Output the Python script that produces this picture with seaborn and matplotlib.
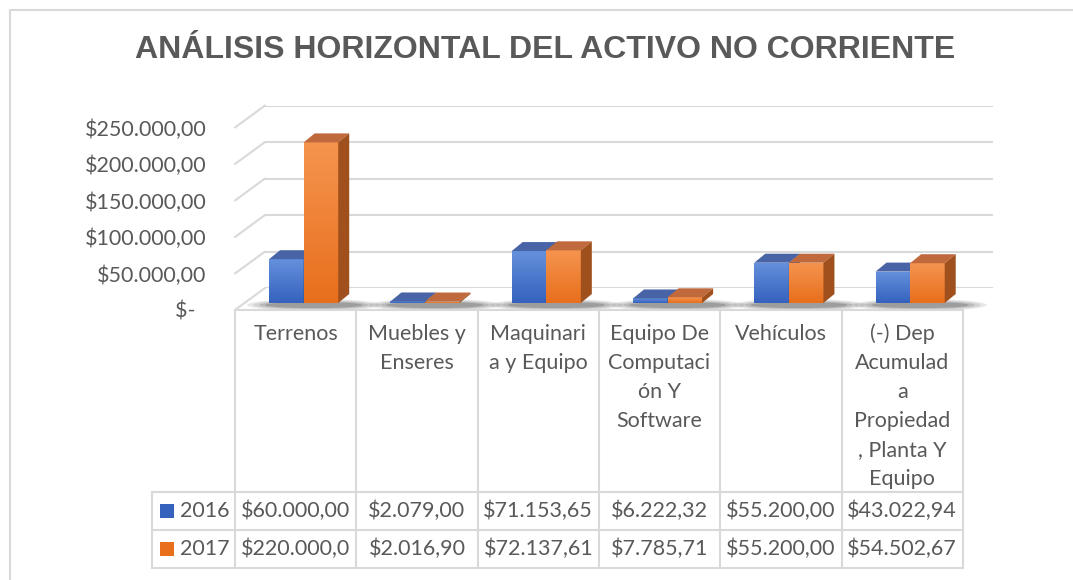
import numpy as np
import pandas as pd
import seaborn as sns
import matplotlib.pyplot as plt
from matplotlib.patches import Polygon, Ellipse, ConnectionPatch, Rectangle
from matplotlib.lines import Line2D
from matplotlib.colors import LinearSegmentedColormap
from matplotlib.ticker import FuncFormatter


categorias = [
    "Terrenos",
    "Muebles y\nEnseres",
    "Maquinari\na y Equipo",
    "Equipo De\nComputaci\nón Y\nSoftware",
    "Vehículos",
    "(-) Dep\nAcumulad\na\nPropiedad\n, Planta Y\nEquipo",
]
anios = ["2016", "2017"]
valores_2016 = [60000.00, 2079.00, 71153.65, 6222.32, 55200.00, 43022.94]
valores_2017 = [220000.00, 2016.90, 72137.61, 7785.71, 55200.00, 54502.67]
ticks_y = [0, 50000, 100000, 150000, 200000, 250000]

W, H = 1073, 580
GRIS = "#595959"
LINEA = "#D9D9D9"
AZUL = ["#6490DC", "#3562BD"]
NARANJA = ["#F5944F", "#E86F1C"]
TOPE = {"2016": "#4864A6", "2017": "#C0693C"}
LADO = {"2016": "#2E4E8E", "2017": "#A0501C"}
FS = 15.5

sns.set_style("white")
plt.rcParams["font.family"] = ["Lato", "DejaVu Sans"]


def fx(x):
    return x / W


def fy(y):
    return 1 - y / H


def rect(x0, y0, x1, y1):
    return [fx(x0), fy(y1), (x1 - x0) / W, (y1 - y0) / H]


def dinero(v):
    s = f"{v:,.2f}".replace(",", "X").replace(".", ",").replace("X", ".")
    return "$" + s


fig = plt.figure(figsize=(W / 100, H / 100), dpi=100)

# borde del grafico
fig.add_artist(Line2D([fx(10), fx(10)], [fy(10), 0], color=LINEA, lw=1.5))
fig.add_artist(Line2D([fx(10), 1], [fy(10), fy(10)], color=LINEA, lw=1.5))

fig.text(fx(545), fy(50), "ANÁLISIS HORIZONTAL DEL ACTIVO NO CORRIENTE",
         ha="center", va="center", fontsize=23, fontweight="bold",
         color=GRIS, family="Liberation Sans")

# pared del fondo con las lineas de division
ESC = 182.5
ax_back = fig.add_axes(rect(265, 288 - ESC, 993, 288))
ax_back.set_ylim(0, 250000)
ax_back.set_xlim(0, 1)
ax_back.set_yticks(ticks_y)
ax_back.set_xticks([])
ax_back.yaxis.grid(True, color=LINEA, lw=1.5)
ax_back.tick_params(left=False, labelleft=False)
sns.despine(ax=ax_back, left=True, bottom=True)
ax_back.patch.set_alpha(0)

ax_left = fig.add_axes(rect(235, 310 - ESC, 236, 310))
ax_left.set_ylim(0, 250000)
ax_left.set_xlim(0, 1)
ax_left.set_yticks(ticks_y)
ax_left.set_xticks([])
ax_left.yaxis.set_major_formatter(
    FuncFormatter(lambda v, p: "$-  " if v == 0 else dinero(v)))
ax_left.tick_params(left=False, pad=17, labelsize=FS, labelcolor=GRIS)
sns.despine(ax=ax_left, left=True, bottom=True)
ax_left.patch.set_alpha(0)
for v in ticks_y:
    fig.add_artist(ConnectionPatch(xyA=(0, v), coordsA=ax_left.transData,
                                   xyB=(0, v), coordsB=ax_back.transData,
                                   color=LINEA, lw=1.5))

# barras
df = pd.DataFrame({
    "categoria": categorias * 2,
    "anio": [anios[0]] * 6 + [anios[1]] * 6,
    "valor": valores_2016 + valores_2017,
})

COL = 121.3
ax = fig.add_axes(rect(243, 303 - ESC, 243 + 6 * COL, 303))
sns.barplot(data=df, x="categoria", y="valor", hue="anio",
            palette=[AZUL[1], NARANJA[1]], width=0.57, ax=ax,
            legend=False, errorbar=None, linewidth=0)
ax.set_xlim(-0.5, 5.5)
ax.set_ylim(0, 250000)
ax.axis("off")
ax.patch.set_alpha(0)

dx = 11 / COL
dy = 9 / (ESC / 250000)

# sombras en el piso
for i in range(len(categorias)):
    for k, a in enumerate([0.10, 0.10, 0.14, 0.18]):
        e = Ellipse((i + 10 / COL, -2 / (ESC / 250000)),
                    width=(0.57 + (64 - 12 * k) / COL),
                    height=(12 - 2 * k) / (ESC / 250000),
                    color="#202020", alpha=a, lw=0, clip_on=False, zorder=1)
        ax.add_patch(e)

cmaps = {"2016": LinearSegmentedColormap.from_list("az", AZUL[::-1]),
         "2017": LinearSegmentedColormap.from_list("na", NARANJA[::-1])}
grad = np.linspace(0, 1, 100).reshape(-1, 1)

z = 3
barras = []
for anio, cont in zip(anios, ax.containers):
    for i, p in enumerate(cont.patches):
        barras.append((i, anio, p))
barras.sort(key=lambda t: (t[0], anios.index(t[1])))

for i, anio, p in barras:
    x0, w, h = p.get_x(), p.get_width(), p.get_height()
    p.set_zorder(z)
    im = ax.imshow(grad, extent=[x0, x0 + w, 0, h], origin="lower",
                   aspect="auto", cmap=cmaps[anio], zorder=z + 0.1,
                   clip_on=True)
    im.set_clip_path(p)
    ax.add_patch(Polygon([(x0, h), (x0 + w, h), (x0 + w + dx, h + dy),
                          (x0 + dx, h + dy)], closed=True, color=TOPE[anio],
                         lw=0, clip_on=False, zorder=z + 0.2))
    ax.add_patch(Polygon([(x0 + w, 0), (x0 + w + dx, dy),
                          (x0 + w + dx, h + dy), (x0 + w, h)], closed=True,
                         color=LADO[anio], lw=0, clip_on=False, zorder=z + 0.2))
    z += 1

ax.set_xlim(-0.5, 5.5)
ax.set_ylim(0, 250000)

# tabla de datos
bordes = [235 + COL * i for i in range(7)]
for xb in bordes:
    fig.add_artist(Line2D([fx(xb), fx(xb)], [fy(310), fy(568)], color=LINEA, lw=1.5))
fig.add_artist(Line2D([fx(152), fx(152)], [fy(492), fy(568)], color=LINEA, lw=1.5))
fig.add_artist(Line2D([fx(235), fx(bordes[-1])], [fy(310), fy(310)], color=LINEA, lw=1.5))
for yb in [492, 530, 568]:
    fig.add_artist(Line2D([fx(152), fx(bordes[-1])], [fy(yb), fy(yb)], color=LINEA, lw=1.5))

for i, cat in enumerate(categorias):
    cx = (bordes[i] + bordes[i + 1]) / 2
    for j, linea in enumerate(cat.split("\n")):
        fig.text(fx(cx), fy(334 + 29 * j), linea, ha="center", va="center",
                 fontsize=FS, color=GRIS)
    for fila, vals in enumerate([valores_2016, valores_2017]):
        # la celda de Excel corta el texto que no cabe
        fig.text(fx(cx), fy(511 + 38 * fila), dinero(vals[i])[:10],
                 ha="center", va="center", fontsize=FS, color=GRIS)

for fila, anio in enumerate(anios):
    yc = 511 + 38 * fila
    fig.add_artist(Rectangle((fx(160), fy(yc + 7)), 14 / W, 14 / H,
                             color=[AZUL, NARANJA][fila][1], lw=0))
    fig.text(fx(180), fy(yc), anio, ha="left", va="center",
             fontsize=FS, color=GRIS)

fig.savefig("out.png", dpi=100)
